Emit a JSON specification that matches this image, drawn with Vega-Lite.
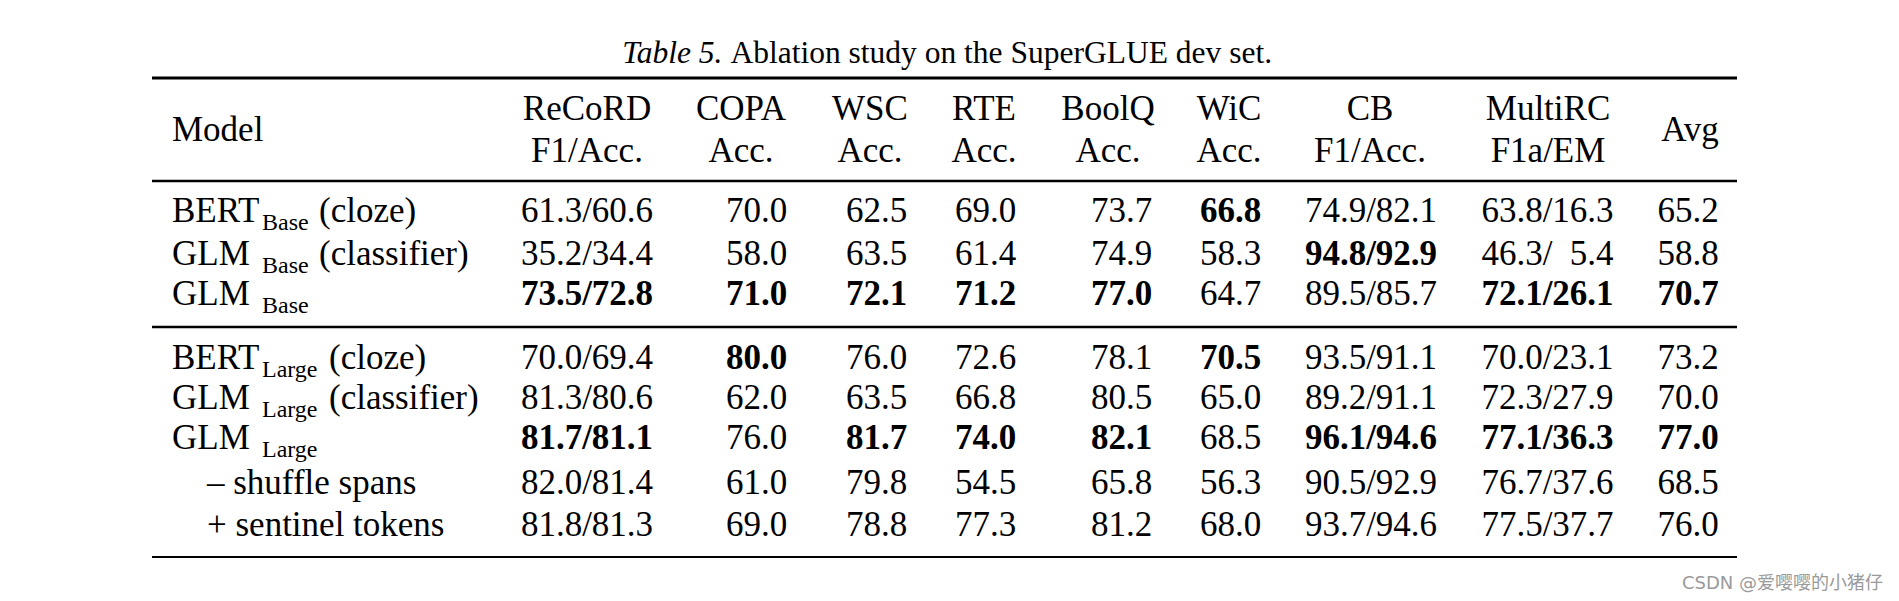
{
  "$schema": "https://vega.github.io/schema/vega-lite/v6.json",
  "width": 1899,
  "height": 601,
  "padding": 0,
  "autosize": "none",
  "background": "white",
  "config": {"view": {"stroke": null}},
  "datasets": {
    "columns": [
      {"task": "ReCoRD", "col": 1, "metric": "F1/Acc."},
      {"task": "COPA", "col": 2, "metric": "Acc."},
      {"task": "WSC", "col": 3, "metric": "Acc."},
      {"task": "RTE", "col": 4, "metric": "Acc."},
      {"task": "BoolQ", "col": 5, "metric": "Acc."},
      {"task": "WiC", "col": 6, "metric": "Acc."},
      {"task": "CB", "col": 7, "metric": "F1/Acc."},
      {"task": "MultiRC", "col": 8, "metric": "F1a/EM"},
      {"task": "Avg", "col": 9, "metric": ""}
    ],
    "models": [
      {"r": 1, "prefix": "BERT", "sub": "Base", "suffix": "(cloze)", "level": 0, "ReCoRD": "61.3/60.6", "COPA": "70.0", "WSC": "62.5", "RTE": "69.0", "BoolQ": "73.7", "WiC": "66.8", "CB": "74.9/82.1", "MultiRC": "63.8/16.3", "Avg": "65.2", "bold": ["WiC"]},
      {"r": 2, "prefix": "GLM", "sub": "Base", "suffix": "(classifier)", "level": 0, "ReCoRD": "35.2/34.4", "COPA": "58.0", "WSC": "63.5", "RTE": "61.4", "BoolQ": "74.9", "WiC": "58.3", "CB": "94.8/92.9", "MultiRC": "46.3/\u20075.4", "Avg": "58.8", "bold": ["CB"]},
      {"r": 3, "prefix": "GLM", "sub": "Base", "suffix": "", "level": 0, "ReCoRD": "73.5/72.8", "COPA": "71.0", "WSC": "72.1", "RTE": "71.2", "BoolQ": "77.0", "WiC": "64.7", "CB": "89.5/85.7", "MultiRC": "72.1/26.1", "Avg": "70.7", "bold": ["ReCoRD", "COPA", "WSC", "RTE", "BoolQ", "MultiRC", "Avg"]},
      {"r": 4, "prefix": "BERT", "sub": "Large", "suffix": "(cloze)", "level": 0, "ReCoRD": "70.0/69.4", "COPA": "80.0", "WSC": "76.0", "RTE": "72.6", "BoolQ": "78.1", "WiC": "70.5", "CB": "93.5/91.1", "MultiRC": "70.0/23.1", "Avg": "73.2", "bold": ["COPA", "WiC"]},
      {"r": 5, "prefix": "GLM", "sub": "Large", "suffix": "(classifier)", "level": 0, "ReCoRD": "81.3/80.6", "COPA": "62.0", "WSC": "63.5", "RTE": "66.8", "BoolQ": "80.5", "WiC": "65.0", "CB": "89.2/91.1", "MultiRC": "72.3/27.9", "Avg": "70.0", "bold": []},
      {"r": 6, "prefix": "GLM", "sub": "Large", "suffix": "", "level": 0, "ReCoRD": "81.7/81.1", "COPA": "76.0", "WSC": "81.7", "RTE": "74.0", "BoolQ": "82.1", "WiC": "68.5", "CB": "96.1/94.6", "MultiRC": "77.1/36.3", "Avg": "77.0", "bold": ["ReCoRD", "WSC", "RTE", "BoolQ", "CB", "MultiRC", "Avg"]},
      {"r": 7, "prefix": "– shuffle spans", "sub": "", "suffix": "", "level": 1, "ReCoRD": "82.0/81.4", "COPA": "61.0", "WSC": "79.8", "RTE": "54.5", "BoolQ": "65.8", "WiC": "56.3", "CB": "90.5/92.9", "MultiRC": "76.7/37.6", "Avg": "68.5", "bold": []},
      {"r": 8, "prefix": "+ sentinel tokens", "sub": "", "suffix": "", "level": 1, "ReCoRD": "81.8/81.3", "COPA": "69.0", "WSC": "78.8", "RTE": "77.3", "BoolQ": "81.2", "WiC": "68.0", "CB": "93.7/94.6", "MultiRC": "77.5/37.7", "Avg": "76.0", "bold": []}
    ],
    "rules": [
      {"pos": -2.5, "kind": "top"},
      {"pos": 0.5, "kind": "mid"},
      {"pos": 3.5, "kind": "mid"},
      {"pos": 8.5, "kind": "bottom"}
    ]
  },
  "layer": [
    {
      "data": {"name": "rules"},
      "mark": {"type": "rule", "color": "black"},
      "encoding": {
        "x": {"datum": -1, "type": "quantitative", "axis": null, "scale": {"domain": [-1, 10, 11], "range": [152, 1737, 1883], "zero": false, "nice": false}},
        "x2": {"datum": 10},
        "y": {"field": "pos", "type": "quantitative", "axis": null, "scale": {"domain": [-3, -2.5, -2, -1, 0, 0.5, 1, 2, 3, 3.5, 4, 5, 6, 7, 8, 8.5, 9], "range": [63, 78, 120, 141, 162, 181, 222, 264.5, 304.5, 327, 369, 409, 449, 494, 536, 557, 589], "zero": false, "nice": false}},
        "strokeWidth": {"field": "kind", "type": "nominal", "legend": null, "scale": {"domain": ["top", "mid", "bottom"], "range": [2.8, 1.8, 2.8]}}
      }
    },
    {
      "data": {"values": [{"t": "Table 5."}]},
      "mark": {"type": "text", "font": "Liberation Serif", "fontSize": 31.5, "fontStyle": "italic", "fill": "black", "align": "right", "baseline": "alphabetic", "dx": -222},
      "encoding": {
        "x": {"datum": 4.5, "type": "quantitative", "axis": null, "scale": {"domain": [-1, 10, 11], "range": [152, 1737, 1883], "zero": false, "nice": false}},
        "y": {"datum": -3, "type": "quantitative", "axis": null, "scale": {"domain": [-3, -2.5, -2, -1, 0, 0.5, 1, 2, 3, 3.5, 4, 5, 6, 7, 8, 8.5, 9], "range": [63, 78, 120, 141, 162, 181, 222, 264.5, 304.5, 327, 369, 409, 449, 494, 536, 557, 589], "zero": false, "nice": false}},
        "text": {"field": "t", "type": "nominal"}
      }
    },
    {
      "data": {"values": [{"t": "Ablation study on the SuperGLUE dev set."}]},
      "mark": {"type": "text", "font": "Liberation Serif", "fontSize": 31.5, "fill": "black", "align": "left", "baseline": "alphabetic", "dx": -214},
      "encoding": {
        "x": {"datum": 4.5, "type": "quantitative", "axis": null, "scale": {"domain": [-1, 10, 11], "range": [152, 1737, 1883], "zero": false, "nice": false}},
        "y": {"datum": -3, "type": "quantitative", "axis": null, "scale": {"domain": [-3, -2.5, -2, -1, 0, 0.5, 1, 2, 3, 3.5, 4, 5, 6, 7, 8, 8.5, 9], "range": [63, 78, 120, 141, 162, 181, 222, 264.5, 304.5, 327, 369, 409, 449, 494, 536, 557, 589], "zero": false, "nice": false}},
        "text": {"field": "t", "type": "nominal"}
      }
    },
    {
      "data": {"name": "columns"},
      "transform": [{"filter": "datum.metric != ''"}],
      "mark": {"type": "text", "font": "Liberation Serif", "fontSize": 35, "fill": "black", "align": "center", "baseline": "alphabetic"},
      "encoding": {
        "x": {"field": "col", "type": "quantitative", "axis": null, "scale": {"domain": [1, 2, 3, 4, 5, 6, 7, 8, 9], "range": [587, 741, 870, 984, 1108, 1229, 1370, 1548, 1690], "zero": false, "nice": false}},
        "y": {"datum": -2, "type": "quantitative", "axis": null, "scale": {"domain": [-3, -2.5, -2, -1, 0, 0.5, 1, 2, 3, 3.5, 4, 5, 6, 7, 8, 8.5, 9], "range": [63, 78, 120, 141, 162, 181, 222, 264.5, 304.5, 327, 369, 409, 449, 494, 536, 557, 589], "zero": false, "nice": false}},
        "text": {"field": "task", "type": "nominal"}
      }
    },
    {
      "data": {"name": "columns"},
      "transform": [{"filter": "datum.metric != ''"}],
      "mark": {"type": "text", "font": "Liberation Serif", "fontSize": 35, "fill": "black", "align": "center", "baseline": "alphabetic"},
      "encoding": {
        "x": {"field": "col", "type": "quantitative", "axis": null, "scale": {"domain": [1, 2, 3, 4, 5, 6, 7, 8, 9], "range": [587, 741, 870, 984, 1108, 1229, 1370, 1548, 1690], "zero": false, "nice": false}},
        "y": {"datum": 0, "type": "quantitative", "axis": null, "scale": {"domain": [-3, -2.5, -2, -1, 0, 0.5, 1, 2, 3, 3.5, 4, 5, 6, 7, 8, 8.5, 9], "range": [63, 78, 120, 141, 162, 181, 222, 264.5, 304.5, 327, 369, 409, 449, 494, 536, 557, 589], "zero": false, "nice": false}},
        "text": {"field": "metric", "type": "nominal"}
      }
    },
    {
      "data": {"name": "columns"},
      "transform": [{"filter": "datum.metric == ''"}],
      "mark": {"type": "text", "font": "Liberation Serif", "fontSize": 35, "fill": "black", "align": "center", "baseline": "alphabetic"},
      "encoding": {
        "x": {"field": "col", "type": "quantitative", "axis": null, "scale": {"domain": [1, 2, 3, 4, 5, 6, 7, 8, 9], "range": [587, 741, 870, 984, 1108, 1229, 1370, 1548, 1690], "zero": false, "nice": false}},
        "y": {"datum": -1, "type": "quantitative", "axis": null, "scale": {"domain": [-3, -2.5, -2, -1, 0, 0.5, 1, 2, 3, 3.5, 4, 5, 6, 7, 8, 8.5, 9], "range": [63, 78, 120, 141, 162, 181, 222, 264.5, 304.5, 327, 369, 409, 449, 494, 536, 557, 589], "zero": false, "nice": false}},
        "text": {"field": "task", "type": "nominal"}
      }
    },
    {
      "data": {"values": [{"h": "Model"}]},
      "mark": {"type": "text", "font": "Liberation Serif", "fontSize": 35, "fill": "black", "align": "left", "baseline": "alphabetic"},
      "encoding": {
        "x": {"datum": 0, "type": "quantitative", "axis": null, "scale": {"domain": [0, 1], "range": [172, 207], "zero": false, "nice": false}},
        "y": {"datum": -1, "type": "quantitative", "axis": null, "scale": {"domain": [-3, -2.5, -2, -1, 0, 0.5, 1, 2, 3, 3.5, 4, 5, 6, 7, 8, 8.5, 9], "range": [63, 78, 120, 141, 162, 181, 222, 264.5, 304.5, 327, 369, 409, 449, 494, 536, 557, 589], "zero": false, "nice": false}},
        "text": {"field": "h", "type": "nominal"}
      }
    },
    {
      "data": {"name": "models"},
      "mark": {"type": "text", "font": "Liberation Serif", "fontSize": 35, "fill": "black", "align": "left", "baseline": "alphabetic"},
      "encoding": {
        "x": {"field": "level", "type": "quantitative", "axis": null, "scale": {"domain": [0, 1], "range": [172, 207], "zero": false, "nice": false}},
        "y": {"field": "r", "type": "quantitative", "axis": null, "scale": {"domain": [-3, -2.5, -2, -1, 0, 0.5, 1, 2, 3, 3.5, 4, 5, 6, 7, 8, 8.5, 9], "range": [63, 78, 120, 141, 162, 181, 222, 264.5, 304.5, 327, 369, 409, 449, 494, 536, 557, 589], "zero": false, "nice": false}},
        "text": {"field": "prefix", "type": "nominal"}
      }
    },
    {
      "data": {"name": "models"},
      "transform": [{"filter": "datum.sub != ''"}],
      "mark": {"type": "text", "font": "Liberation Serif", "fontSize": 24, "fill": "black", "align": "left", "baseline": "alphabetic", "dx": 90, "dy": 8},
      "encoding": {
        "x": {"field": "level", "type": "quantitative", "axis": null, "scale": {"domain": [0, 1], "range": [172, 207], "zero": false, "nice": false}},
        "y": {"field": "r", "type": "quantitative", "axis": null, "scale": {"domain": [-3, -2.5, -2, -1, 0, 0.5, 1, 2, 3, 3.5, 4, 5, 6, 7, 8, 8.5, 9], "range": [63, 78, 120, 141, 162, 181, 222, 264.5, 304.5, 327, 369, 409, 449, 494, 536, 557, 589], "zero": false, "nice": false}},
        "text": {"field": "sub", "type": "nominal"}
      }
    },
    {
      "data": {"name": "models"},
      "transform": [{"filter": "datum.sub == 'Base' && datum.suffix != ''"}],
      "mark": {"type": "text", "font": "Liberation Serif", "fontSize": 35, "fill": "black", "align": "left", "baseline": "alphabetic", "dx": 147},
      "encoding": {
        "x": {"field": "level", "type": "quantitative", "axis": null, "scale": {"domain": [0, 1], "range": [172, 207], "zero": false, "nice": false}},
        "y": {"field": "r", "type": "quantitative", "axis": null, "scale": {"domain": [-3, -2.5, -2, -1, 0, 0.5, 1, 2, 3, 3.5, 4, 5, 6, 7, 8, 8.5, 9], "range": [63, 78, 120, 141, 162, 181, 222, 264.5, 304.5, 327, 369, 409, 449, 494, 536, 557, 589], "zero": false, "nice": false}},
        "text": {"field": "suffix", "type": "nominal"}
      }
    },
    {
      "data": {"name": "models"},
      "transform": [{"filter": "datum.sub == 'Large' && datum.suffix != ''"}],
      "mark": {"type": "text", "font": "Liberation Serif", "fontSize": 35, "fill": "black", "align": "left", "baseline": "alphabetic", "dx": 157},
      "encoding": {
        "x": {"field": "level", "type": "quantitative", "axis": null, "scale": {"domain": [0, 1], "range": [172, 207], "zero": false, "nice": false}},
        "y": {"field": "r", "type": "quantitative", "axis": null, "scale": {"domain": [-3, -2.5, -2, -1, 0, 0.5, 1, 2, 3, 3.5, 4, 5, 6, 7, 8, 8.5, 9], "range": [63, 78, 120, 141, 162, 181, 222, 264.5, 304.5, 327, 369, 409, 449, 494, 536, 557, 589], "zero": false, "nice": false}},
        "text": {"field": "suffix", "type": "nominal"}
      }
    },
    {
      "data": {"name": "models"},
      "transform": [
        {"fold": ["ReCoRD", "COPA", "WSC", "RTE", "BoolQ", "WiC", "CB", "MultiRC", "Avg"]},
        {"lookup": "key", "from": {"data": {"name": "columns"}, "key": "task", "fields": ["col"]}},
        {"filter": "indexof(datum.bold, datum.key) < 0"}
      ],
      "mark": {"type": "text", "font": "Liberation Serif", "fontSize": 35, "fill": "black", "align": "center", "baseline": "alphabetic"},
      "encoding": {
        "x": {"field": "col", "type": "quantitative", "axis": null, "scale": {"domain": [1, 2, 3, 4, 5, 6, 7, 8, 9], "range": [587, 756.5, 876.5, 985.5, 1121.5, 1230.5, 1371, 1547.5, 1688], "zero": false, "nice": false}},
        "y": {"field": "r", "type": "quantitative", "axis": null, "scale": {"domain": [-3, -2.5, -2, -1, 0, 0.5, 1, 2, 3, 3.5, 4, 5, 6, 7, 8, 8.5, 9], "range": [63, 78, 120, 141, 162, 181, 222, 264.5, 304.5, 327, 369, 409, 449, 494, 536, 557, 589], "zero": false, "nice": false}},
        "text": {"field": "value", "type": "nominal"}
      }
    },
    {
      "data": {"name": "models"},
      "transform": [
        {"fold": ["ReCoRD", "COPA", "WSC", "RTE", "BoolQ", "WiC", "CB", "MultiRC", "Avg"]},
        {"lookup": "key", "from": {"data": {"name": "columns"}, "key": "task", "fields": ["col"]}},
        {"filter": "indexof(datum.bold, datum.key) >= 0"}
      ],
      "mark": {"type": "text", "font": "Liberation Serif", "fontSize": 35, "fontWeight": "bold", "fill": "black", "align": "center", "baseline": "alphabetic"},
      "encoding": {
        "x": {"field": "col", "type": "quantitative", "axis": null, "scale": {"domain": [1, 2, 3, 4, 5, 6, 7, 8, 9], "range": [587, 756.5, 876.5, 985.5, 1121.5, 1230.5, 1371, 1547.5, 1688], "zero": false, "nice": false}},
        "y": {"field": "r", "type": "quantitative", "axis": null, "scale": {"domain": [-3, -2.5, -2, -1, 0, 0.5, 1, 2, 3, 3.5, 4, 5, 6, 7, 8, 8.5, 9], "range": [63, 78, 120, 141, 162, 181, 222, 264.5, 304.5, 327, 369, 409, 449, 494, 536, 557, 589], "zero": false, "nice": false}},
        "text": {"field": "value", "type": "nominal"}
      }
    },
    {
      "data": {"values": [{"w": "CSDN @爱嘤嘤的小猪仔"}]},
      "mark": {"type": "text", "font": "DejaVu Sans, Noto Sans CJK SC", "fontSize": 18, "fill": "#9a9a9a", "align": "right", "baseline": "alphabetic"},
      "encoding": {
        "x": {"datum": 11, "type": "quantitative", "axis": null, "scale": {"domain": [-1, 10, 11], "range": [152, 1737, 1883], "zero": false, "nice": false}},
        "y": {"datum": 9, "type": "quantitative", "axis": null, "scale": {"domain": [-3, -2.5, -2, -1, 0, 0.5, 1, 2, 3, 3.5, 4, 5, 6, 7, 8, 8.5, 9], "range": [63, 78, 120, 141, 162, 181, 222, 264.5, 304.5, 327, 369, 409, 449, 494, 536, 557, 589], "zero": false, "nice": false}},
        "text": {"field": "w", "type": "nominal"}
      }
    }
  ],
  "resolve": {"scale": {"x": "independent", "y": "independent", "strokeWidth": "independent"}}
}
